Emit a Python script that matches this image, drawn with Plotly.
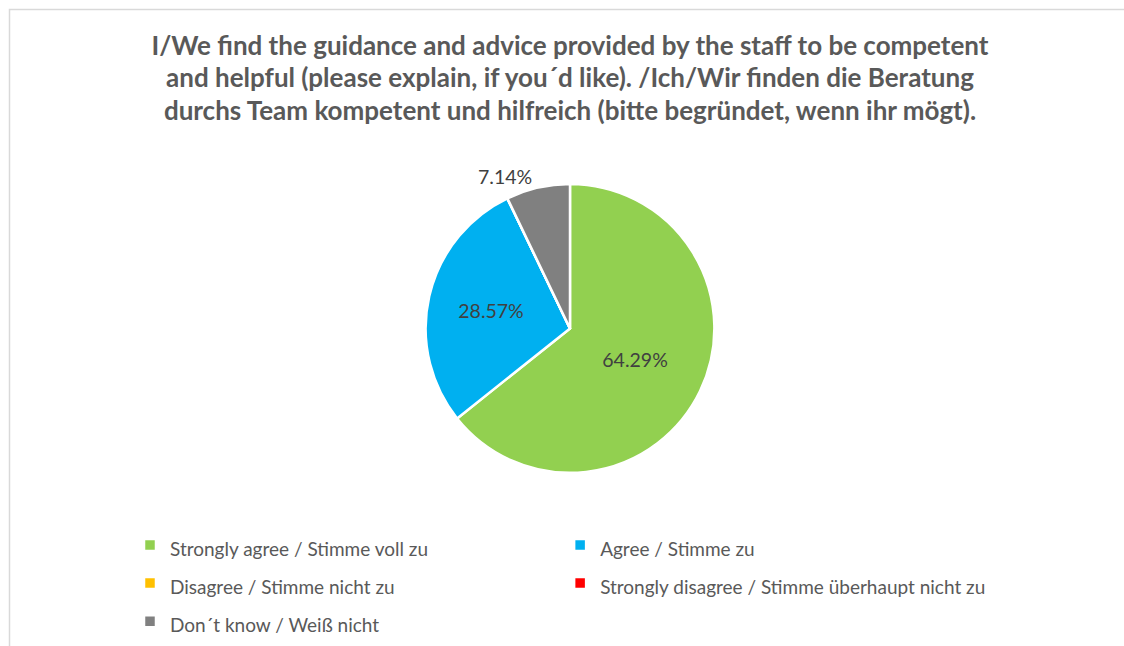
import plotly.graph_objects as go

W, H = 1124, 646

categories = [
    "Strongly agree / Stimme voll zu",
    "Agree / Stimme zu",
    "Disagree / Stimme nicht zu",
    "Strongly disagree / Stimme überhaupt nicht zu",
    "Don´t know / Weiß nicht",
]
values = [64.29, 28.57, 0.0, 0.0, 7.14]
colors = ["#92D050", "#00B0F0", "#FFC000", "#FF0000", "#808080"]
label_pos = ["inside", "inside", "none", "none", "outside"]

title_lines = [
    "I/We find the guidance and advice provided by the staff to be competent",
    "and helpful (please explain, if you´d like). /Ich/Wir finden die Beratung",
    "durchs Team kompetent und hilfreich (bitte begründet, wenn ihr mögt).",
]

FONT = "Lato"
text_labels = [f"{v:.2f}%" if v > 0 else "" for v in values]
legend_labels = [f'<span style="font-size:19px">{c}</span>' for c in categories]

cx, cy, r = 570, 331, 145.5

fig = go.Figure(
    go.Pie(
        labels=legend_labels,
        values=values,
        text=text_labels,
        textinfo="text",
        textposition=label_pos,
        sort=False,
        direction="clockwise",
        rotation=0,
        marker=dict(colors=colors, line=dict(color="white", width=2.5)),
        textfont=dict(family=FONT, size=19.5, color="#404040"),
        insidetextorientation="horizontal",
        hoverinfo="skip",
        showlegend=True,
        domain=dict(
            x=[(cx - r) / W, (cx + r) / W],
            y=[(H - cy - r) / H, (H - cy + r) / H],
        ),
    )
)

title_text = "<br>".join(
    f'<span style="font-size:26px">{t}</span>' for t in title_lines
)

fig.update_layout(
    width=W,
    height=H,
    margin=dict(l=0, r=0, t=0, b=0),
    paper_bgcolor="white",
    plot_bgcolor="white",
    title=dict(
        text=f"<b>{title_text}</b>",
        x=cx / W,
        xanchor="center",
        y=1 - 54.5 / H,
        yanchor="top",
        yref="container",
        font=dict(family=FONT, size=25, color="#595959"),
    ),
    legend=dict(
        orientation="h",
        x=130 / W,
        xanchor="left",
        y=1 - 525 / H,
        yanchor="top",
        font=dict(family=FONT, size=27, color="#595959"),
        bgcolor="rgba(0,0,0,0)",
        itemclick=False,
        itemdoubleclick=False,
    ),
    shapes=[
        dict(
            type="rect",
            xref="paper",
            yref="paper",
            x0=9.5 / W,
            x1=(W + 10) / W,
            y0=-10 / H,
            y1=1 - 9.5 / H,
            line=dict(color="#D9D9D9", width=1.5),
            fillcolor="rgba(0,0,0,0)",
            layer="below",
        )
    ],
)

fig.write_html(
    "out.html",
    config={"displayModeBar": False},
    post_script="document.body.style.margin='0';document.body.style.overflow='hidden';",
)
